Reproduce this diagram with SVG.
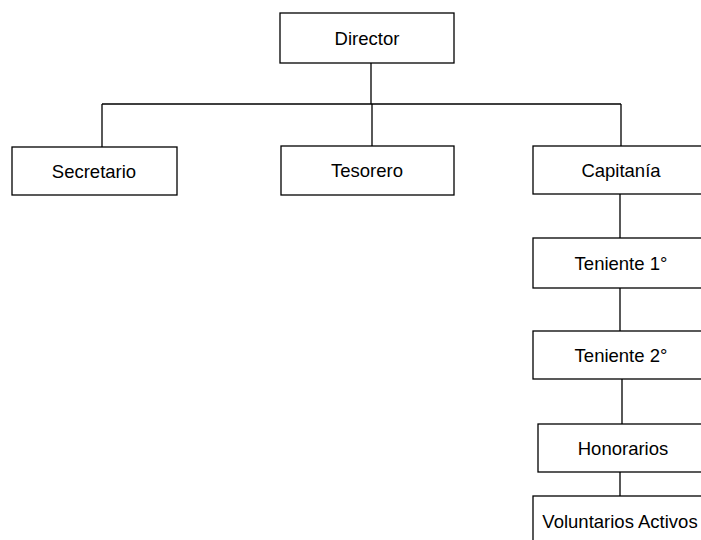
<svg xmlns="http://www.w3.org/2000/svg" width="701" height="540" viewBox="0 0 701 540">
<style>
.box{fill:#fff;stroke:#000;stroke-width:1.3}
.lbl{font-family:"Liberation Sans",Arial,sans-serif;font-size:18.5px;fill:#000;text-anchor:middle}
.con{stroke:#000;stroke-width:1.3;fill:none}
</style>
<rect width="701" height="540" fill="#fff"/>
<g id="connectors">
<path class="con" d="M371,63 V104 M102,104 H621 M102,104 V147 M372,104 V146 M621,104 V146"/>
<path class="con" stroke="#444" d="M620,194 V238 M620,288 V331 M622,379 V424 M620,472 V496"/>
</g>
<g id="director"><rect class="box" x="280" y="13" width="174" height="50"/><text class="lbl" x="367" y="45">Director</text></g>
<g id="secretario"><rect class="box" x="12" y="147" width="165" height="48"/><text class="lbl" x="94" y="178">Secretario</text></g>
<g id="tesorero"><rect class="box" x="281" y="146" width="173" height="49"/><text class="lbl" x="367" y="177">Tesorero</text></g>
<g id="capitania"><rect class="box" x="533" y="146" width="176" height="48"/><text class="lbl" x="621" y="177">Capitanía</text></g>
<g id="teniente1"><rect class="box" x="533" y="238" width="176" height="50"/><text class="lbl" x="621" y="270">Teniente 1°</text></g>
<g id="teniente2"><rect class="box" x="533" y="331" width="176" height="48"/><text class="lbl" x="621" y="362">Teniente 2°</text></g>
<g id="honorarios"><rect class="box" x="538" y="424" width="172" height="48"/><text class="lbl" x="623" y="455">Honorarios</text></g>
<g id="voluntarios"><rect class="box" x="533" y="496" width="176" height="60"/><text class="lbl" x="620" y="528">Voluntarios Activos</text></g>
</svg>
